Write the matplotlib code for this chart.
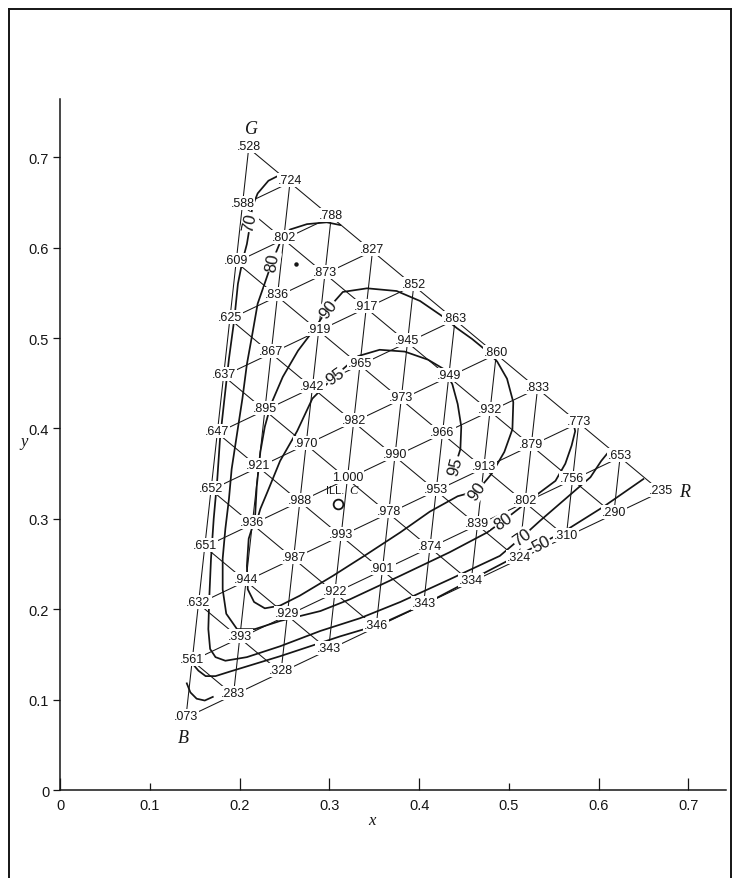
import matplotlib
matplotlib.use("Agg")
import matplotlib.pyplot as plt
from matplotlib.lines import Line2D

# ── Primaries and reference white (chromaticity x, y) ─────────────
green_xy = (0.21, 0.71)
red_xy = (0.67, 0.33)
blue_xy = (0.14, 0.08)
illum_c_xy = (0.310, 0.316)

# ── Values on the triangular grid ─────────────────────────────────
# one row per green step (10 at G down to 0 on the B-R edge),
# each row running from the G-B edge towards the R side
row_g10 = [0.528]
row_g9 = [0.588, 0.724]
row_g8 = [0.609, 0.802, 0.788]
row_g7 = [0.625, 0.836, 0.873, 0.827]
row_g6 = [0.637, 0.867, 0.919, 0.917, 0.852]
row_g5 = [0.647, 0.895, 0.942, 0.965, 0.945, 0.863]
row_g4 = [0.652, 0.921, 0.970, 0.982, 0.973, 0.949, 0.860]
row_g3 = [0.651, 0.936, 0.988, 1.000, 0.990, 0.966, 0.932, 0.833]
row_g2 = [0.632, 0.944, 0.987, 0.993, 0.978, 0.953, 0.913, 0.879, 0.773]
row_g1 = [0.561, 0.393, 0.929, 0.922, 0.901, 0.874, 0.839, 0.802, 0.756, 0.653]
row_g0 = [0.073, 0.283, 0.328, 0.343, 0.346, 0.343, 0.334, 0.324, 0.310, 0.290, 0.235]
rows = [row_g10, row_g9, row_g8, row_g7, row_g6, row_g5,
        row_g4, row_g3, row_g2, row_g1, row_g0]

# ── Hand-drawn iso-lines ──────────────────────────────────────────
c50_x = [0.148, 0.154, 0.162, 0.173, 0.189, 0.245, 0.312, 0.356, 0.409, 0.457,
         0.513, 0.560, 0.605, 0.650]
c50_y = [0.139, 0.132, 0.126, 0.126, 0.131, 0.148, 0.170, 0.183, 0.207, 0.232,
         0.261, 0.285, 0.313, 0.344]

hook_x = [0.141, 0.145, 0.152, 0.161, 0.170]
hook_y = [0.118, 0.108, 0.101, 0.099, 0.103]

c70_x = [0.246, 0.232, 0.220, 0.214, 0.212, 0.208, 0.203, 0.198, 0.194, 0.188,
         0.183, 0.178, 0.175, 0.171, 0.168, 0.166, 0.165, 0.167, 0.173, 0.184,
         0.208, 0.245, 0.290, 0.334, 0.379, 0.434, 0.490, 0.515, 0.535, 0.563,
         0.591, 0.603, 0.612]
c70_y = [0.681, 0.674, 0.660, 0.645, 0.628, 0.604, 0.585, 0.560, 0.521, 0.477,
         0.433, 0.388, 0.344, 0.300, 0.256, 0.211, 0.178, 0.156, 0.147, 0.143,
         0.147, 0.159, 0.176, 0.190, 0.208, 0.233, 0.259, 0.280, 0.298, 0.322,
         0.346, 0.364, 0.375]

c80_x = [0.312, 0.297, 0.275, 0.256, 0.246, 0.236, 0.227, 0.220, 0.214, 0.208,
         0.203, 0.197, 0.191, 0.188, 0.184, 0.181, 0.181, 0.185, 0.197, 0.217,
         0.245, 0.290, 0.323, 0.379, 0.434, 0.476, 0.494, 0.529, 0.552, 0.563,
         0.570, 0.574, 0.572]
c80_y = [0.625, 0.628, 0.626, 0.620, 0.608, 0.584, 0.558, 0.538, 0.504, 0.471,
         0.433, 0.394, 0.355, 0.322, 0.289, 0.256, 0.222, 0.195, 0.178, 0.178,
         0.187, 0.198, 0.211, 0.237, 0.263, 0.285, 0.298, 0.325, 0.342, 0.361,
         0.381, 0.397, 0.406]

c90_x = [0.217, 0.219, 0.223, 0.228, 0.235, 0.248, 0.265, 0.281, 0.298, 0.315,
         0.342, 0.375, 0.401, 0.426, 0.442, 0.459, 0.475, 0.487, 0.498, 0.505,
         0.504, 0.495, 0.481, 0.465, 0.443, 0.412, 0.379, 0.342, 0.304, 0.267,
         0.245, 0.228, 0.216, 0.209, 0.208, 0.210, 0.217]
c90_y = [0.300, 0.336, 0.374, 0.402, 0.427, 0.457, 0.486, 0.507, 0.532, 0.551,
         0.555, 0.552, 0.541, 0.524, 0.511, 0.499, 0.486, 0.474, 0.455, 0.429,
         0.399, 0.374, 0.350, 0.331, 0.325, 0.308, 0.285, 0.261, 0.237, 0.215,
         0.204, 0.201, 0.208, 0.222, 0.248, 0.278, 0.300]

c95_x = [0.218, 0.223, 0.231, 0.245, 0.264, 0.281, 0.306, 0.332, 0.356, 0.384,
         0.410, 0.427, 0.437, 0.443, 0.447, 0.446, 0.440]
c95_y = [0.294, 0.311, 0.330, 0.364, 0.397, 0.433, 0.458, 0.480, 0.487, 0.485,
         0.476, 0.466, 0.449, 0.427, 0.402, 0.377, 0.358]

iso_lines = [(c50_x, c50_y), (hook_x, hook_y), (c70_x, c70_y),
             (c80_x, c80_y), (c90_x, c90_y), (c95_x, c95_y)]

# iso-line labels: text, x, y, rotation
iso_text = ["70", "80", "90", "95", "95", "90", "80", "70", "50"]
iso_tx = [0.2115, 0.2360, 0.2984, 0.3062, 0.4400, 0.4646, 0.4935, 0.5147, 0.5359]
iso_ty = [0.6283, 0.5841, 0.5321, 0.4580, 0.3584, 0.3308, 0.2976, 0.2799, 0.2721]
iso_rot = [78, 80, 52, 35, 75, 55, 35, 35, 28]

x_ticks = [0, 0.1, 0.2, 0.3, 0.4, 0.5, 0.6, 0.7]
x_tick_labels = ["0", "0.1", "0.2", "0.3", "0.4", "0.5", "0.6", "0.7"]
y_ticks = [0, 0.1, 0.2, 0.3, 0.4, 0.5, 0.6, 0.7]
y_tick_labels = ["0", "0.1", "0.2", "0.3", "0.4", "0.5", "0.6", "0.7"]

INK = "#151515"
SANS = "Liberation Sans"
SERIF = "Liberation Serif"


def grid_xy(g, r):
    """Point on the 10-step triangle grid: g green steps, r red steps."""
    b = 10 - g - r
    x = (g * green_xy[0] + r * red_xy[0] + b * blue_xy[0]) / 10.0
    y = (g * green_xy[1] + r * red_xy[1] + b * blue_xy[1]) / 10.0
    return x, y


def fmt(v):
    s = f"{v:.3f}"
    return s[1:] if s.startswith("0") else s


fig = plt.figure(figsize=(7.41, 8.79), dpi=100)
fig.patch.set_facecolor("white")
ax = fig.add_axes([0.0814, 0.1001, 0.8982, 0.7857])
ax.set_xlim(0, 0.742)
ax.set_ylim(0, 0.764)

# ── Triangle grid (three families of lines) ──────────────────────
grid_kw = dict(color=INK, lw=0.75, zorder=2, solid_capstyle="butt")
for k in range(10):
    p0, p1 = grid_xy(k, 0), grid_xy(k, 10 - k)          # constant green
    ax.plot([p0[0], p1[0]], [p0[1], p1[1]], **grid_kw)
    p0, p1 = grid_xy(0, k), grid_xy(10 - k, k)          # constant red
    ax.plot([p0[0], p1[0]], [p0[1], p1[1]], **grid_kw)
    p0, p1 = grid_xy(0, 10 - k), grid_xy(10 - k, 0)     # constant blue
    ax.plot([p0[0], p1[0]], [p0[1], p1[1]], **grid_kw)

# ── Iso-lines ─────────────────────────────────────────────────────
for xs, ys in iso_lines:
    ax.plot(xs, ys, color=INK, lw=1.25, zorder=3, solid_joinstyle="round")

# ── Value labels at grid points ───────────────────────────────────
for i, row in enumerate(rows):
    g = 10 - i
    for r, v in enumerate(row):
        x, y = grid_xy(g, r)
        ax.annotate(fmt(v), (x, y), xytext=(0, 1.5), textcoords="offset points",
                    ha="center", va="center", fontsize=9, family=SANS,
                    color=INK, zorder=5,
                    bbox=dict(boxstyle="square,pad=0.08", fc="white", ec="none"))

for s, x, y, rot in zip(iso_text, iso_tx, iso_ty, iso_rot):
    ax.text(x, y, s, rotation=rot, ha="center", va="center", fontsize=12,
            family=SANS, color=INK, zorder=6, rotation_mode="anchor",
            bbox=dict(boxstyle="square,pad=0.05", fc="white", ec="none"))

# primaries
ax.annotate("G", green_xy, xytext=(2, 14), textcoords="offset points",
            ha="center", va="center", fontsize=13, family=SERIF,
            style="italic", color=INK)
ax.annotate("B", blue_xy, xytext=(-2, -14), textcoords="offset points",
            ha="center", va="center", fontsize=13, family=SERIF,
            style="italic", color=INK)
ax.annotate("R", red_xy, xytext=(17, 0), textcoords="offset points",
            ha="center", va="center", fontsize=13, family=SERIF,
            style="italic", color=INK)

# illuminant C
ax.plot([illum_c_xy[0]], [illum_c_xy[1]], marker="o", ms=7, mfc="none",
        mec=INK, mew=1.3, zorder=4)
ax.annotate("ILL.", illum_c_xy, xytext=(-2, 10), textcoords="offset points",
            ha="center", va="center", fontsize=8, family=SANS, color=INK, zorder=5)
ax.annotate("C", illum_c_xy, xytext=(11, 10), textcoords="offset points",
            ha="center", va="center", fontsize=9, family=SERIF,
            style="italic", color=INK, zorder=5)
ax.plot([0.2627], [0.5819], marker="o", ms=2.2, color=INK, zorder=4)

# ── Axes ──────────────────────────────────────────────────────────
for side in ("top", "right"):
    ax.spines[side].set_visible(False)
for side in ("left", "bottom"):
    ax.spines[side].set_linewidth(1.1)
    ax.spines[side].set_color(INK)

ax.set_xticks(x_ticks)
ax.set_xticklabels(x_tick_labels, family=SANS, fontsize=10.5, color=INK)
ax.set_yticks(y_ticks)
ax.set_yticklabels(y_tick_labels, family=SANS, fontsize=10.5, color=INK)
ax.tick_params(axis="x", direction="in", length=9, width=0.9, pad=6, colors=INK)
ax.tick_params(axis="y", direction="out", length=5, width=0.9, pad=3, colors=INK)
# the 0.1 and 0.5 marks are printed shorter
for i in (1, 5):
    ax.xaxis.get_major_ticks()[i].tick1line.set_markersize(5)

ax.set_xlabel("x", family=SERIF, style="italic", fontsize=12, color=INK)
ax.xaxis.set_label_coords(0.468, -0.032)
ax.set_ylabel("y", family=SERIF, style="italic", fontsize=12, color=INK,
              rotation=0, ha="center", va="center")
ax.yaxis.set_label_coords(-0.055, 0.505)

# ── Page frame ────────────────────────────────────────────────────
frame_kw = dict(color=INK, lw=1.4, transform=fig.transFigure)
fig.add_artist(Line2D([0.0121, 0.0121], [0.0, 0.9886], **frame_kw))
fig.add_artist(Line2D([0.9865, 0.9865], [0.0, 0.9886], **frame_kw))
fig.add_artist(Line2D([0.0121, 0.9865], [0.9886, 0.9886], **frame_kw))

fig.savefig("out.png", dpi=100, facecolor="white")
plt.close(fig)
